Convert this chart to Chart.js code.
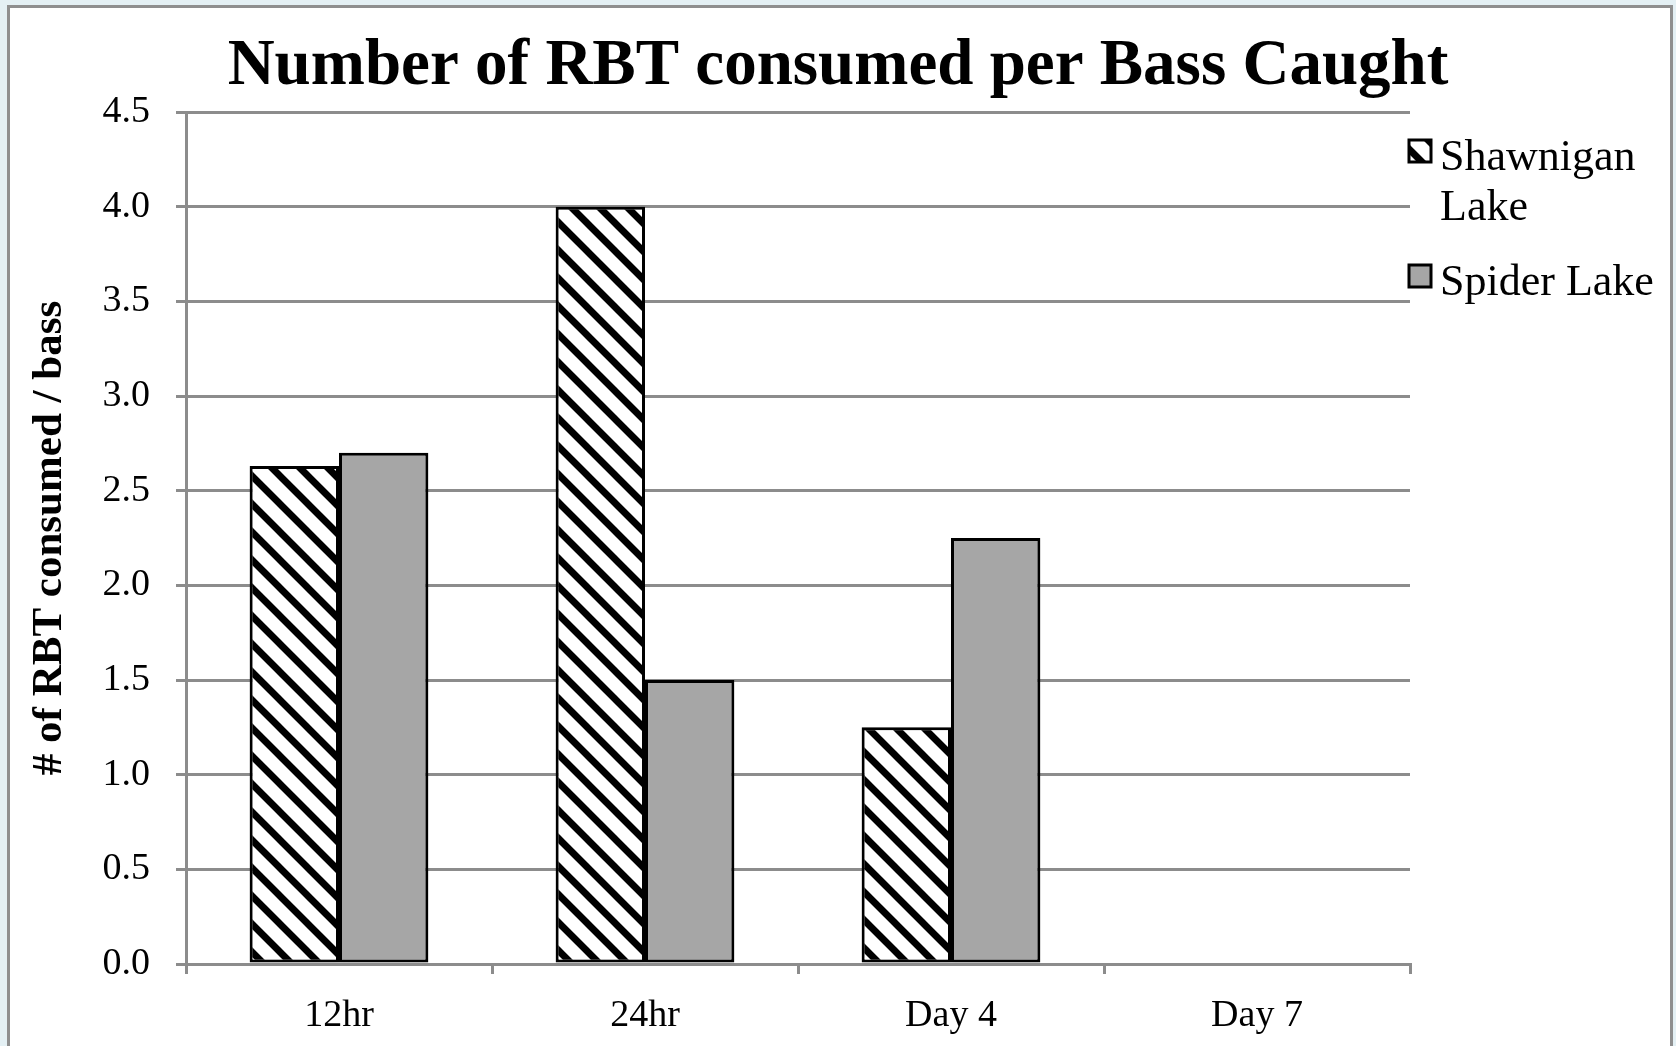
<!DOCTYPE html>
<html>
<head>
<meta charset="utf-8">
<script src="https://cdn.jsdelivr.net/npm/chart.js@4.4.1/dist/chart.umd.min.js"></script>
<style>
    html, body { margin: 0; padding: 0; background: #e4f0f4; overflow: hidden; }
    #bingkai { position: absolute; left: 7px; top: 5px; width: 1666px; height: 1100px; background: #fff; border: 3px solid #8f8f8f; box-sizing: border-box; }
    #grafik { position: absolute; left: 0; top: 0; }
</style>
</head>
<body>
<div id="bingkai"></div>
<canvas id="grafik" width="1676" height="1046"></canvas>
<script>
// Data grafik
const kategori = ['12hr', '24hr', 'Day 4', 'Day 7'];
const nilaiShawnigan = [2.63, 4.0, 1.25, null];
const nilaiSpider = [2.7, 1.5, 2.25, null];
const labelTickY = ['0.0', '0.5', '1.0', '1.5', '2.0', '2.5', '3.0', '3.5', '4.0', '4.5'];
const namaSeri = ['Shawnigan Lake', 'Spider Lake'];
const judul = 'Number of RBT consumed per Bass Caught';
const judulSumbuY = '# of RBT consumed / bass';

const warnaGrid = '#8c8c8c';
const fontSerif = 'Liberation Serif';

// Fungsi untuk membuat pola arsir diagonal (garis miring hitam)
function buatPolaArsir() {
    const s = 28;
    const c = document.createElement('canvas');
    c.width = s;
    c.height = s;
    const g = c.getContext('2d');
    g.fillStyle = '#fff';
    g.fillRect(0, 0, s, s);
    g.strokeStyle = '#000';
    g.lineWidth = 7;
    g.beginPath();
    [-s, 0, s].forEach(function (k) {
        g.moveTo(k - s, -s);
        g.lineTo(k + 2 * s, 2 * s);
    });
    g.stroke();
    return g.createPattern(c, 'repeat');
}

const polaArsir = buatPolaArsir();

// Plugin legenda sendiri (label dua baris)
const legendaManual = {
    id: 'legendaManual',
    afterDraw(chart) {
        const ctx = chart.ctx;
        const x = chart.chartArea.right - 1;
        ctx.save();
        ctx.font = '44px "' + fontSerif + '"';
        ctx.textBaseline = 'alphabetic';
        ctx.lineWidth = 3;
        ctx.strokeStyle = '#000';

        // Shawnigan Lake
        ctx.fillStyle = chart.data.datasets[0].backgroundColor;
        ctx.fillRect(x, 140, 22, 22);
        ctx.strokeRect(x, 140, 22, 22);
        ctx.fillStyle = '#000';
        ctx.fillText('Shawnigan', x + 31, 170);
        ctx.fillText('Lake', x + 31, 220);

        // Spider Lake
        ctx.fillStyle = chart.data.datasets[1].backgroundColor;
        ctx.fillRect(x, 265, 22, 22);
        ctx.strokeRect(x, 265, 22, 22);
        ctx.fillStyle = '#000';
        ctx.fillText('Spider Lake', x + 31, 295);
        ctx.restore();
    }
};

// Bayangan tipis di belakang batang
const bayanganBatang = {
    id: 'bayanganBatang',
    beforeDatasetsDraw(chart) {
        chart.ctx.save();
        chart.ctx.shadowColor = 'rgba(0,0,0,0.18)';
        chart.ctx.shadowBlur = 6;
    },
    afterDatasetsDraw(chart) {
        chart.ctx.restore();
    }
};

const ctx = document.getElementById('grafik').getContext('2d');
const grafik = new Chart(ctx, {
    type: 'bar',
    data: {
        labels: kategori,
        datasets: [{
            label: namaSeri[0],
            data: nilaiShawnigan,
            backgroundColor: polaArsir,
            borderColor: '#000',
            borderWidth: 3,
            borderSkipped: false,
        }, {
            label: namaSeri[1],
            data: nilaiSpider,
            backgroundColor: '#a6a6a6',
            borderColor: '#000',
            borderWidth: 3,
            borderSkipped: false,
        }],
    },
    options: {
        responsive: false,
        animation: false,
        devicePixelRatio: 1,
        categoryPercentage: 0.584,
        barPercentage: 1.0,
        layout: { padding: 0 },
        plugins: {
            legend: { display: false },
            tooltip: { enabled: false },
            title: {
                display: true,
                text: judul,
                color: '#000',
                font: { family: fontSerif, size: 65, weight: 'bold' },
                padding: { top: 28, bottom: 6 },
            },
        },
        scales: {
            x: {
                grid: {
                    offset: true,
                    drawOnChartArea: false,
                    tickLength: 10,
                    color: warnaGrid,
                    lineWidth: 3,
                },
                border: { color: warnaGrid, width: 3 },
                ticks: {
                    color: '#000',
                    padding: 19,
                    font: { family: fontSerif, size: 38 },
                },
                afterFit: function (s) { s.height = 82; },
            },
            y: {
                min: 0,
                max: 4.5,
                ticks: {
                    stepSize: 0.5,
                    color: '#000',
                    padding: 26,
                    font: { family: fontSerif, size: 38 },
                    callback: function (v, i) { return labelTickY[i]; },
                },
                grid: { color: warnaGrid, lineWidth: 3, tickLength: 10 },
                border: { color: warnaGrid, width: 3 },
                title: {
                    display: true,
                    text: judulSumbuY,
                    color: '#000',
                    font: { family: fontSerif, size: 43, weight: 'bold' },
                    padding: { top: 24, bottom: 0 },
                },
                afterFit: function (s) { s.width = 186; },
            },
            // sumbu kosong di kanan untuk memberi ruang legenda
            ruang: {
                position: 'right',
                display: true,
                grid: { display: false },
                border: { display: false },
                ticks: { display: false },
                afterFit: function (s) { s.width = 266; },
            },
        },
    },
    plugins: [bayanganBatang, legendaManual],
});
</script>
</body>
</html>
